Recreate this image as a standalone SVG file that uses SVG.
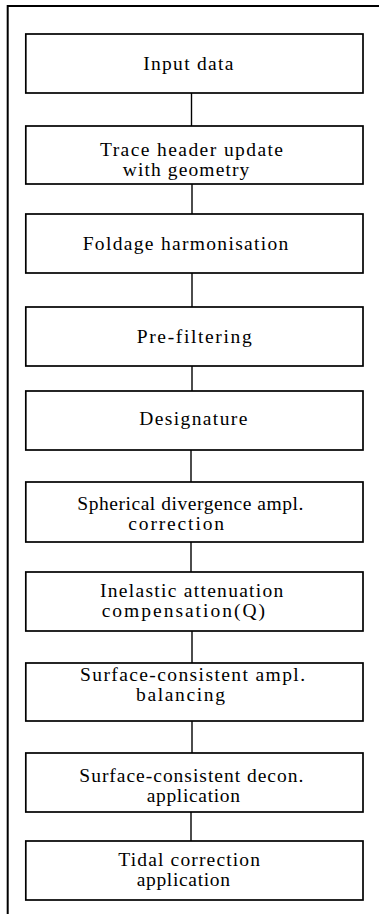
<svg xmlns="http://www.w3.org/2000/svg" width="379" height="914" viewBox="0 0 379 914">
<style>
.box{fill:#fff;stroke:#000;stroke-width:1.7}
.frame{fill:none;stroke:#000;stroke-width:2}
.conn{stroke:#000;stroke-width:1.4;fill:none}
text{font-family:"Liberation Serif","Times New Roman",serif;font-size:19.5px;fill:#000}
</style>
<rect width="379" height="914" fill="#fff"/>
<path class="frame" d="M7.7,914 V6 H379"/>
<g id="connectors">
<line class="conn" x1="191.5" y1="93" x2="191.5" y2="126"/>
<line class="conn" x1="192" y1="184" x2="192" y2="214"/>
<line class="conn" x1="192" y1="273" x2="192" y2="307"/>
<line class="conn" x1="192" y1="366" x2="192" y2="391"/>
<line class="conn" x1="191" y1="450" x2="191" y2="482"/>
<line class="conn" x1="191" y1="542" x2="191" y2="572"/>
<line class="conn" x1="192" y1="631" x2="192" y2="663"/>
<line class="conn" x1="192" y1="721" x2="192" y2="753"/>
<line class="conn" x1="191" y1="812" x2="191" y2="841"/>
</g>
<g id="n1"><rect class="box" x="25.8" y="34" width="337.2" height="59"/>
<text x="143.3" y="70" textLength="90">Input data</text></g>
<g id="n2"><rect class="box" x="25.8" y="126" width="337.2" height="58"/>
<text x="100" y="156" textLength="183">Trace header update</text>
<text x="122.7" y="176" textLength="126.6">with geometry</text></g>
<g id="n3"><rect class="box" x="25.8" y="214" width="337.2" height="59"/>
<text x="82.7" y="250" textLength="205.6">Foldage harmonisation</text></g>
<g id="n4"><rect class="box" x="25.8" y="307" width="337.2" height="59"/>
<text x="136.7" y="343" textLength="115">Pre-filtering</text></g>
<g id="n5"><rect class="box" x="25.8" y="391" width="337.2" height="59"/>
<text x="139.3" y="425" textLength="108">Designature</text></g>
<g id="n6"><rect class="box" x="25.8" y="482" width="337.2" height="60"/>
<text x="77.3" y="510" textLength="226">Spherical divergence ampl.</text>
<text x="128.3" y="530" textLength="95.7">correction</text></g>
<g id="n7"><rect class="box" x="25.8" y="572" width="337.2" height="59"/>
<text x="100" y="597" textLength="183.3">Inelastic attenuation</text>
<text x="101.7" y="617" textLength="163.3">compensation(Q)</text></g>
<g id="n8"><rect class="box" x="25.8" y="663" width="337.2" height="58"/>
<text x="80" y="681" textLength="225">Surface-consistent ampl.</text>
<text x="136" y="701" textLength="89">balancing</text></g>
<g id="n9"><rect class="box" x="25.8" y="753" width="337.2" height="59"/>
<text x="79.3" y="782" textLength="224">Surface-consistent decon.</text>
<text x="146.7" y="802" textLength="93.3">application</text></g>
<g id="n10"><rect class="box" x="25.8" y="841" width="337.2" height="59"/>
<text x="118.3" y="866" textLength="141.7">Tidal correction</text>
<text x="136.7" y="886" textLength="93.3">application</text></g>
</svg>
